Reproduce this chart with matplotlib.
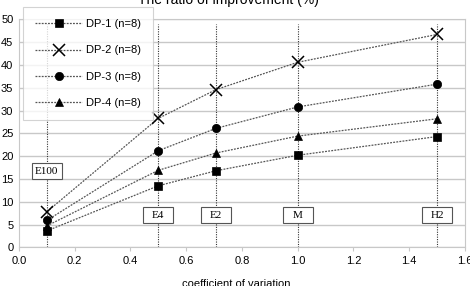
import numpy as np
import matplotlib
matplotlib.use("Agg")
import matplotlib.pyplot as plt
from matplotlib.patches import Rectangle

# coefficient of variation of each distribution
cv = [0.1, 0.5, 0.707, 1.0, 1.5]
dist_labels = ["E100", "E4", "E2", "M", "H2"]
label_y = [16.7, 7.0, 7.0, 7.0, 7.0]

dp1 = [3.6, 13.5, 16.8, 20.2, 24.3]
dp2 = [7.8, 28.3, 34.6, 40.6, 46.7]
dp3 = [5.9, 21.2, 26.1, 30.8, 35.8]
dp4 = [4.7, 16.9, 20.7, 24.4, 28.2]

series = [("DP-1 (n=8)", dp1, "s"), ("DP-2 (n=8)", dp2, "x"),
          ("DP-3 (n=8)", dp3, "o"), ("DP-4 (n=8)", dp4, "^")]

plt.rcParams['font.family'] = ['Liberation Sans', 'DejaVu Sans']

fig = plt.figure(figsize=(4.7, 2.86), dpi=100)
ax = fig.add_axes([0.0404, 0.1353, 0.9486, 0.7967])

ax.set_xlim(0, 1.6)
ax.set_ylim(0, 50)
ax.set_xticks(np.arange(0, 1.61, 0.2))
ax.set_xticklabels(["%.1f" % v for v in np.arange(0, 1.61, 0.2)])
ax.set_yticks(range(0, 51, 5))
ax.yaxis.grid(True, color="#c8c8c8", lw=1.0)
ax.set_axisbelow(True)
for s in ax.spines.values():
    s.set_color("#c8c8c8")
ax.tick_params(axis="both", labelsize=8, color="#c8c8c8", length=3, pad=3)
ax.tick_params(axis="y", length=0, pad=4)

# vertical markers for each distribution
for x in cv:
    ax.plot([x, x], [0, 49], ls=(0, (1, 1.2)), color="#333333", lw=0.8, zorder=1)

for name, vals, m in series:
    ms = 8 if m == "x" else 6
    ax.plot(cv, vals, ls=(0, (1.5, 1)), color="#555555", lw=0.9,
            marker=m, ms=ms, mfc="black", mec="black", mew=1.1 if m == "x" else 0.5,
            label=name, zorder=3)

# fixed size label boxes (about 30 x 16 px)
bw, bh = 0.1075, 3.5
for x, y, lab in zip(cv, label_y, dist_labels):
    ax.add_patch(Rectangle((x - bw / 2, y - bh / 2), bw, bh, fc="white",
                           ec="#555555", lw=0.8, zorder=4))
    ax.text(x, y, lab, ha="center", va="center", fontsize=8,
            family=["Liberation Serif", "DejaVu Serif"], zorder=5)

leg = ax.legend(loc="upper left", bbox_to_anchor=(0.009, 1.054), fontsize=8,
                frameon=True, fancybox=False, edgecolor="#c8c8c8",
                borderpad=1.1, labelspacing=1.45, handlelength=4.2,
                handletextpad=0.35, borderaxespad=0.0)
leg.get_frame().set_linewidth(0.8)
leg.set_zorder(6)

fig.text(228 / 470, 1 - 4 / 286, "The ratio of improvement (%)", fontsize=10,
         ha="center", va="baseline")
fig.text(236 / 470, 1 - 279 / 286, "coefficient of variation", fontsize=8,
         ha="center", va="top")

fig.savefig("out.png", dpi=100)
